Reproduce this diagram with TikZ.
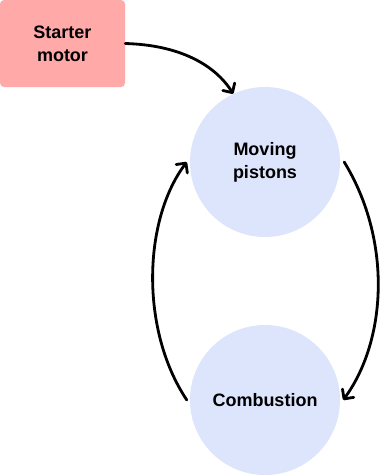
\documentclass[tikz,border=0pt]{standalone}
\usepackage{fontspec}
\setmainfont{Liberation Sans}
\usetikzlibrary{arrows.meta}
\definecolor{pinkbox}{HTML}{FFA9A9}
\definecolor{bluecirc}{HTML}{DDE5FC}
\begin{document}
\begin{tikzpicture}[x=1pt,y=-1pt,
  lbl/.style={font=\fontsize{18}{23}\selectfont\bfseries, align=center, text=black},
  boxnode/.style={lbl, fill=pinkbox, rounded corners=4pt, minimum width=125pt, minimum height=87pt, inner sep=0pt},
  circnode/.style={lbl, circle, fill=bluecirc, minimum size=150pt, inner sep=0pt},
  conn/.style={line width=2.8pt, line cap=round, -{Straight Barb[length=7pt,width=14pt,line width=2.8pt, round]}}
]
\useasboundingbox (0,0) rectangle (383,475);
\node[boxnode] (starter) at (62.5,43.5) {Starter\\motor};
\node[circnode] (pist) at (265,162) {Moving\\pistons};
\node[circnode] (comb) at (265,400) {Combustion};
\draw[conn] (starter.east) .. controls (180,45) and (215,65) .. (pist.115);
\draw[conn] ([xshift=4pt]pist.east) .. controls (392,240) and (387,340) .. ([xshift=3pt]comb.east);
\draw[conn] ([xshift=-3pt]comb.west) .. controls (140,330) and (143,220) .. ([xshift=-3pt]pist.west);
\end{tikzpicture}
\end{document}
